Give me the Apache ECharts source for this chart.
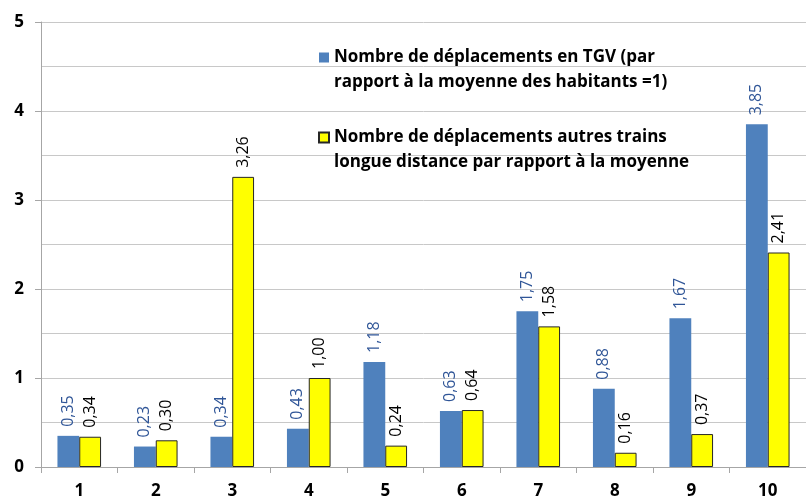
<!DOCTYPE html>
<html>
<head>
<meta charset="utf-8">
<script src="https://cdn.jsdelivr.net/npm/echarts@6/dist/echarts.min.js"></script>
<style>
  html, body { margin: 0; padding: 0; background: #fff; }
  #chart { width: 806px; height: 504px; }
</style>
</head>
<body>
<div id="chart"></div>
<script>
// catégories (groupes) et valeurs
const categories = ['1', '2', '3', '4', '5', '6', '7', '8', '9', '10']
const tgvValues = [0.35, 0.23, 0.34, 0.43, 1.18, 0.63, 1.75, 0.88, 1.67, 3.85]
const autresValues = [0.34, 0.30, 3.26, 1.00, 0.24, 0.64, 1.58, 0.16, 0.37, 2.41]
const tgvName = 'Nombre de déplacements en TGV (par\nrapport à la moyenne des habitants =1)'
const autresName = 'Nombre de déplacements autres trains\nlongue distance par rapport à la moyenne'

const FONT = 'Open Sans'
const fmt = p => p.value.toFixed(2).replace('.', ',')

const chart = echarts.init(document.getElementById('chart'))
chart.setOption({
  animation: false,
  textStyle: { fontFamily: FONT },
  grid: { left: 41, right: -10, top: 22, bottom: 37 },
  legend: {
    orient: 'vertical',
    left: 313,
    top: 15,
    itemGap: 5,
    itemWidth: 10,
    itemHeight: 10,
    icon: 'rect',
    // ligne vide devant : la 1re ligne du texte se centre sur le carré
    formatter: name => '\n' + name,
    textStyle: {
      fontFamily: FONT,
      fontSize: 17,
      fontWeight: 'bold',
      color: '#000',
      lineHeight: 25
    },
    data: [tgvName, autresName]
  },
  xAxis: {
    type: 'category',
    data: categories,
    axisLine: { lineStyle: { color: '#a6a6a6' } },
    axisTick: { show: true, length: 6, lineStyle: { color: '#a6a6a6' } },
    axisLabel: { color: '#000', fontSize: 17, fontWeight: 'bold', margin: 16 }
  },
  yAxis: {
    type: 'value',
    min: 0,
    max: 5,
    interval: 1,
    axisLine: { show: true, lineStyle: { color: '#a6a6a6' } },
    axisTick: { show: true, length: 6, lineStyle: { color: '#a6a6a6' } },
    axisLabel: { color: '#000', fontSize: 17, fontWeight: 'bold', margin: 17 },
    splitLine: { lineStyle: { color: '#c8c8c8' } },
    minorTick: { show: false, splitNumber: 2 },
    minorSplitLine: { show: true, lineStyle: { color: '#c8c8c8' } }
  },
  series: [
    {
      name: tgvName,
      type: 'bar',
      data: tgvValues,
      barGap: '0%',
      barCategoryGap: '43%',
      itemStyle: { color: '#4f81bd' },
      label: {
        show: true,
        position: 'top',
        rotate: 90,
        align: 'left',
        verticalAlign: 'middle',
        distance: 9,
        formatter: fmt,
        fontFamily: FONT,
        fontSize: 16,
        color: '#2f5597'
      }
    },
    {
      name: autresName,
      type: 'bar',
      data: autresValues,
      itemStyle: { color: '#ffff00', borderColor: '#262626', borderWidth: 1 },
      label: {
        show: true,
        position: 'top',
        rotate: 90,
        align: 'left',
        verticalAlign: 'middle',
        distance: 9,
        formatter: fmt,
        fontFamily: FONT,
        fontSize: 16,
        color: '#000'
      }
    }
  ]
})
</script>
</body>
</html>
